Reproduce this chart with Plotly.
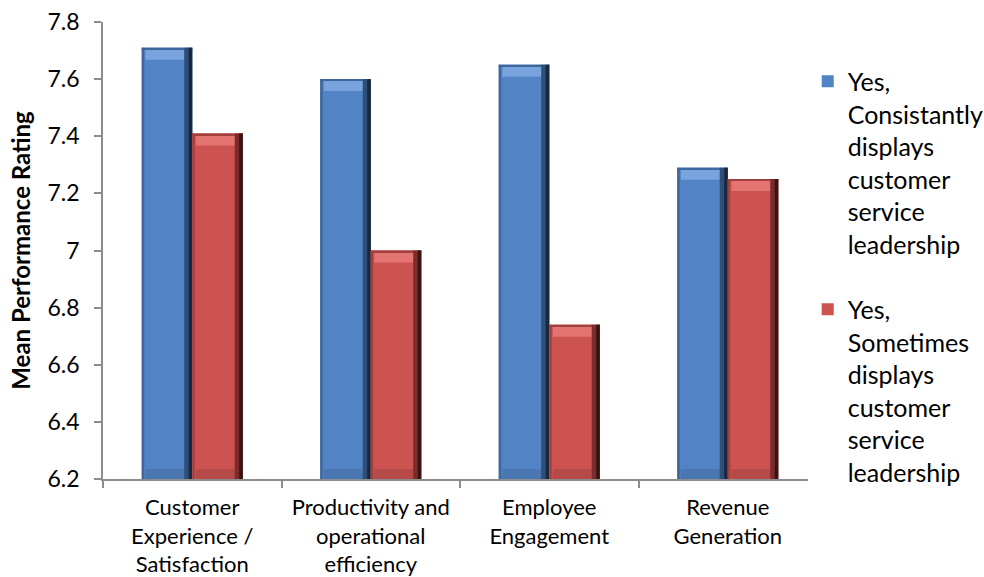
import plotly.graph_objects as go

# Mean performance rating by outcome area, split by leadership group
categories = [
    "Customer<br>Experience /<br>Satisfaction",
    "Productivity and<br>operational<br>efficiency",
    "Employee<br>Engagement",
    "Revenue<br>Generation",
]
consistently = [7.71, 7.60, 7.65, 7.29]
sometimes = [7.41, 7.00, 6.74, 7.25]

series_names = [
    "Yes,<br>Consistantly<br>displays<br>customer<br>service<br>leadership",
    "Yes,<br>Sometimes<br>displays<br>customer<br>service<br>leadership",
]

FONT = "Lato, 'Open Sans', sans-serif"
AXIS_MIN = 6.2
BAR_W = 0.283

styles = [
    dict(main="#5283C4", edge="#3F679C", shade="#2F4E78", dark="#18283F",
         light="#79A3DC", low="#4A76B2"),
    dict(main="#CC5350", edge="#A2403E", shade="#7A2D2C", dark="#3A1313",
         light="#E47472", low="#B64A48"),
]


def strip(vals, color, offset, width, group, base=None, height=None):
    """One beveled facet of the bars, positioned within each category slot."""
    if height is not None:
        y = [height] * len(vals)
        b = base
    else:
        y = vals
        b = None
    return go.Bar(
        x=categories, y=y, base=b, width=width, offset=offset,
        marker=dict(color=color, line=dict(width=0)), legendgroup=group,
        showlegend=False, hoverinfo="skip",
    )


fig = go.Figure()

for i, (name, vals, st) in enumerate(zip(series_names, [consistently, sometimes], styles)):
    off = -BAR_W if i == 0 else 0.0
    grp = f"series{i}"
    # bar body (this trace carries the legend entry)
    fig.add_trace(go.Bar(
        x=categories, y=vals, name=name, width=BAR_W, offset=off,
        marker=dict(color=st["main"], line=dict(width=0)), legendgroup=grp,
        hoverinfo="skip",
    ))
    # lower bevel
    fig.add_trace(strip(vals, st["low"], off + 0.02, BAR_W - 0.06, grp,
                        base=[AXIS_MIN] * len(vals), height=0.035))
    # upper bevel (highlight) and its top rim
    fig.add_trace(strip(vals, st["light"], off + 0.02, BAR_W - 0.06, grp,
                        base=[v - 0.042 for v in vals], height=0.042))
    fig.add_trace(strip(vals, st["edge"], off, BAR_W, grp,
                        base=[v - 0.006 for v in vals], height=0.006))
    # left and right edges
    fig.add_trace(strip(vals, st["edge"], off, 0.014, grp))
    fig.add_trace(strip(vals, st["shade"], off + BAR_W - 0.045, 0.045, grp))
    fig.add_trace(strip(vals, st["dark"], off + BAR_W - 0.02, 0.02, grp))

fig.update_layout(
    barmode="overlay",
    width=984, height=577,
    margin=dict(l=103, r=167, t=22, b=98, autoexpand=False),
    paper_bgcolor="white", plot_bgcolor="white",
    font=dict(family=FONT, color="#000000"),
    legend=dict(
        x=0.987, y=0.92, xanchor="left", yanchor="top",
        font=dict(size=25, family=FONT), valign="top",
        tracegroupgap=30, itemwidth=30,
    ),
    xaxis=dict(
        type="category", showgrid=False, tickson="boundaries",
        ticks="outside", ticklen=7, tickcolor="#8C8C8C", tickwidth=1.5,
        showline=True, linecolor="#8C8C8C", linewidth=1.5,
        tickfont=dict(size=22, family=FONT), ticklabelstandoff=8,
    ),
    yaxis=dict(
        range=[AXIS_MIN, 7.8], dtick=0.2, tick0=AXIS_MIN, showgrid=False, zeroline=False,
        ticks="outside", ticklen=7, tickcolor="#8C8C8C", tickwidth=1.5,
        showline=True, linecolor="#8C8C8C", linewidth=1.5,
        tickfont=dict(size=23, family=FONT), ticklabelstandoff=10,
        title=dict(text="<b>Mean Performance Rating</b>", font=dict(size=24, family=FONT), standoff=10),
    ),
)

fig.write_html("out.html")
